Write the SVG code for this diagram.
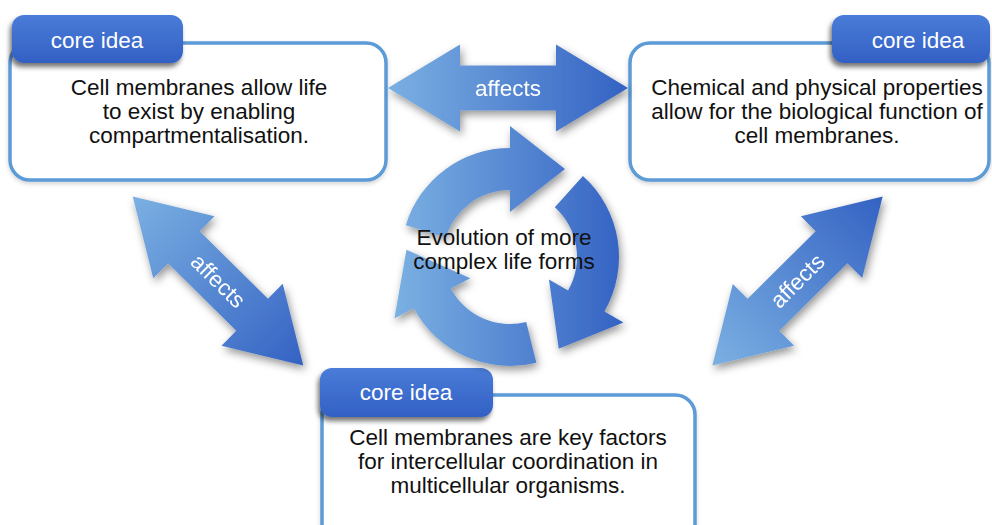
<svg xmlns="http://www.w3.org/2000/svg" width="992" height="525" viewBox="0 0 992 525">
  <defs>
    <linearGradient id="arrowGrad" x1="0" y1="0" x2="1" y2="0">
      <stop offset="0" stop-color="#7bb0e2"/>
      <stop offset="1" stop-color="#3462c3"/>
    </linearGradient>
    <linearGradient id="cycleGrad" gradientUnits="userSpaceOnUse" x1="395" y1="0" x2="625" y2="0">
      <stop offset="0" stop-color="#7bb0e2"/>
      <stop offset="1" stop-color="#3462c3"/>
    </linearGradient>
    <linearGradient id="tagGrad" x1="0" y1="0" x2="0" y2="1">
      <stop offset="0" stop-color="#4a7cd8"/>
      <stop offset="1" stop-color="#3260c4"/>
    </linearGradient>
    <filter id="shadow" x="-30%" y="-30%" width="160%" height="160%">
      <feDropShadow dx="2" dy="4" stdDeviation="4.5" flood-color="#000" flood-opacity="0.42"/>
    </filter>
    <filter id="tagShadow" x="-20%" y="-30%" width="140%" height="170%">
      <feDropShadow dx="-2" dy="4" stdDeviation="2.5" flood-color="#000" flood-opacity="0.55"/>
    </filter>
    <filter id="boxShadow" x="-10%" y="-10%" width="120%" height="130%">
      <feDropShadow dx="0" dy="2" stdDeviation="2" flood-color="#000" flood-opacity="0.18"/>
    </filter>
    <path id="dbl" d="M -120 0 L -48 -43.5 L -48 -22.5 L 48 -22.5 L 48 -43.5 L 120 0 L 48 43.5 L 48 22.5 L -48 22.5 L -48 43.5 Z" fill="url(#arrowGrad)"/>
    <style>
      .box { fill: #ffffff; stroke: #5b9bd6; stroke-width: 3.5; }
      .tag { fill: url(#tagGrad); }
      .tagtxt { font-family: "Liberation Sans", Arial, sans-serif; font-size: 22.5px; fill: #ffffff; text-anchor: middle; }
      .body { font-family: "Liberation Sans", Arial, sans-serif; font-size: 22.5px; fill: #111111; text-anchor: middle; }
      .lbl { font-family: "Liberation Sans", Arial, sans-serif; font-size: 22.5px; fill: #ffffff; text-anchor: middle; }
      .cyc { fill: url(#cycleGrad); }
    </style>
  </defs>

  <g id="node-compartmentalisation">
    <rect class="box" x="10" y="43" width="376" height="137" rx="20" filter="url(#boxShadow)"/>
    <rect class="tag" x="12" y="15" width="171" height="48" rx="12" filter="url(#tagShadow)"/>
    <text class="tagtxt" x="97" y="48">core idea</text>
    <text class="body" x="199" y="95">Cell membranes allow life</text>
    <text class="body" x="199" y="119">to exist by enabling</text>
    <text class="body" x="199" y="143">compartmentalisation.</text>
  </g>

  <g id="node-properties">
    <rect class="box" x="630" y="43" width="359" height="137" rx="20" filter="url(#boxShadow)"/>
    <rect class="tag" x="832" y="15" width="158" height="48" rx="12" filter="url(#tagShadow)"/>
    <text class="tagtxt" x="918" y="48">core idea</text>
    <text class="body" x="817" y="95">Chemical and physical properties</text>
    <text class="body" x="817" y="119">allow for the biological function of</text>
    <text class="body" x="817" y="143">cell membranes.</text>
  </g>

  <g id="node-coordination">
    <rect class="box" x="322" y="395" width="373" height="150" rx="20" filter="url(#boxShadow)"/>
    <rect class="tag" x="320" y="368" width="173" height="49" rx="12" filter="url(#tagShadow)"/>
    <text class="tagtxt" x="406" y="400">core idea</text>
    <text class="body" x="508" y="445">Cell membranes are key factors</text>
    <text class="body" x="508" y="469">for intercellular coordination in</text>
    <text class="body" x="508" y="493">multicellular organisms.</text>
  </g>

  <g id="node-evolution">
    <g filter="url(#shadow)">
      <path class="cyc" d="M 405.76 225.13 A 109 109 0 0 1 510 148 L 510 126 L 565 169 L 510 212 L 510 190 A 67 67 0 0 0 445.93 237.41 Z"/>
      <path class="cyc" d="M 582.94 176 A 109 109 0 0 1 604.40 311.5 L 623.45 322.5 L 558.71 348.63 L 548.97 279.5 L 568.02 290.5 A 67 67 0 0 0 554.83 207.21 Z"/>
      <path class="cyc" d="M 536.37 362.76 A 109 109 0 0 1 413.76 308.18 L 394.34 318.5 L 406.48 249.76 L 470.27 278.13 L 450.85 288.46 A 67 67 0 0 0 526.21 322.01 Z"/>
    </g>
    <text class="body" x="504" y="245" font-size="22px">Evolution of more</text>
    <text class="body" x="504" y="269" font-size="22px">complex life forms</text>
  </g>

  <g id="connectors">
    <g id="edge-top" filter="url(#shadow)">
      <g transform="translate(508 88)">
        <use href="#dbl"/>
        <text class="lbl" x="0" y="7.5">affects</text>
      </g>
    </g>
    <g id="edge-left" filter="url(#shadow)">
      <g transform="translate(218 281) rotate(44.7)">
        <use href="#dbl"/>
        <text class="lbl" x="0" y="7.5">affects</text>
      </g>
    </g>
    <g id="edge-right" filter="url(#shadow)">
      <g transform="translate(797.5 281) rotate(-44.8)">
        <use href="#dbl"/>
        <text class="lbl" x="0" y="7.5">affects</text>
      </g>
    </g>
  </g>
</svg>
